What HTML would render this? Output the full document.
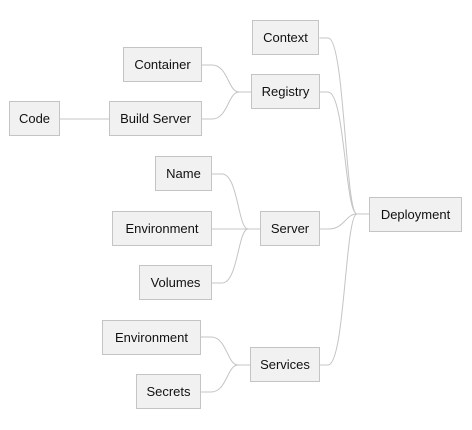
<!DOCTYPE html>
<html><head><style>
html,body{margin:0;padding:0;background:#fff;}
svg{display:block;}
text{font-family:"Liberation Sans",sans-serif;font-size:13px;fill:#111;}
rect{fill:#f1f1f1;stroke:#c4c4c4;stroke-width:1;}
path{fill:none;stroke:#c4c4c4;stroke-width:1;}
</style></head><body>
<svg width="472" height="430" viewBox="0 0 472 430">
<!-- connectors -->
<!-- to Deployment -->
<path d="M319.5,38 H328 C345,38 345,214 357,214 H369.5"/>
<path d="M319.5,92 H328 C345,92 345,214 357,214"/>
<path d="M319.5,229 H328 C345,229 345,214 357,214"/>
<path d="M319.5,365 H328 C345,365 345,214 357,214"/>
<!-- to Registry -->
<path d="M201.5,65 H212 C228,65 228,92 239,92 H251.5"/>
<path d="M201.5,119 H212 C228,119 228,92 239,92"/>
<!-- Code -> Build Server -->
<path d="M59.5,119 H109.5"/>
<!-- to Server -->
<path d="M211.5,174 H222 C238,174 238,229 248,229 H260.5"/>
<path d="M211.5,229 H248"/>
<path d="M211.5,283 H222 C238,283 238,229 248,229"/>
<!-- to Services -->
<path d="M200.5,337 H211 C227,337 227,365 238,365 H250.5"/>
<path d="M200.5,392 H211 C227,392 227,365 238,365"/>

<!-- boxes -->
<rect x="252.5" y="20.5" width="66" height="34"/><text x="285.5" y="42" text-anchor="middle">Context</text>
<rect x="123.5" y="47.5" width="78" height="34"/><text x="162.5" y="69" text-anchor="middle">Container</text>
<rect x="251.5" y="74.5" width="68" height="34"/><text x="285.5" y="96" text-anchor="middle">Registry</text>
<rect x="9.5" y="101.5" width="50" height="34"/><text x="34.5" y="123" text-anchor="middle">Code</text>
<rect x="109.5" y="101.5" width="92" height="34"/><text x="155.5" y="123" text-anchor="middle">Build Server</text>
<rect x="155.5" y="156.5" width="56" height="34"/><text x="183.5" y="178" text-anchor="middle">Name</text>
<rect x="112.5" y="211.5" width="99" height="34"/><text x="162" y="233" text-anchor="middle">Environment</text>
<rect x="260.5" y="211.5" width="59" height="34"/><text x="290" y="233" text-anchor="middle">Server</text>
<rect x="139.5" y="265.5" width="72" height="34"/><text x="175.5" y="287" text-anchor="middle">Volumes</text>
<rect x="369.5" y="197.5" width="92" height="34"/><text x="415.5" y="219" text-anchor="middle">Deployment</text>
<rect x="102.5" y="320.5" width="98" height="34"/><text x="151.5" y="342" text-anchor="middle">Environment</text>
<rect x="250.5" y="347.5" width="69" height="34"/><text x="285" y="369" text-anchor="middle">Services</text>
<rect x="136.5" y="374.5" width="64" height="34"/><text x="168.5" y="396" text-anchor="middle">Secrets</text>
</svg>
</body></html>
